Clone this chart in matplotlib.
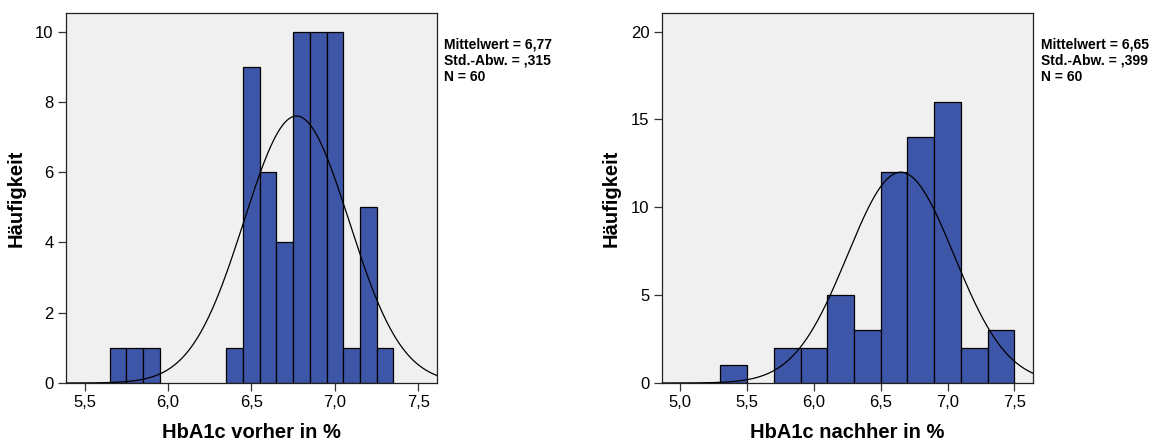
import numpy as np
import matplotlib
matplotlib.use("Agg")
import matplotlib.pyplot as plt
from matplotlib.ticker import FuncFormatter

plt.rcParams['font.family'] = ['Liberation Sans', 'DejaVu Sans']

# vorher: Klassenbreite 0,1
vorher_edges = [5.65, 5.75, 5.85, 5.95, 6.05, 6.15, 6.25, 6.35, 6.45, 6.55,
                6.65, 6.75, 6.85, 6.95, 7.05, 7.15, 7.25, 7.35]
vorher_counts = [1, 1, 1, 0, 0, 0, 0, 1, 9, 6, 4, 10, 10, 10, 1, 5, 1]
vorher_stats = (6.77, 0.315, 60)

# nachher: Klassenbreite 0,2
nachher_edges = [5.3, 5.5, 5.7, 5.9, 6.1, 6.3, 6.5, 6.7, 6.9, 7.1, 7.3, 7.5]
nachher_counts = [1, 0, 2, 2, 5, 3, 12, 14, 16, 2, 3]
nachher_stats = (6.65, 0.399, 60)

fig = plt.figure(figsize=(11.61, 4.44), dpi=100)

comma = FuncFormatter(lambda v, p: ("%.1f" % v).replace(".", ","))


def panel(rect, edges, counts, stats, xlim, ylim, xticks, yticks, xlabel, stxt, tx):
    ax = fig.add_axes(rect)
    ax.set_facecolor('#f0f0f0')
    edges = np.array(edges)
    counts = np.array(counts)
    lefts = edges[:-1]
    widths = np.diff(edges)
    m = counts > 0
    ax.bar(lefts[m], counts[m], width=widths[m], align='edge',
           color='#3e56a8', edgecolor='black', linewidth=0.9, zorder=2)
    mean, sd, n = stats
    bw = widths[0]
    xs = np.linspace(xlim[0], xlim[1], 400)
    ys = n * bw * np.exp(-0.5 * ((xs - mean) / sd) ** 2) / (sd * np.sqrt(2 * np.pi))
    ax.plot(xs, ys, color='black', linewidth=0.9, zorder=3)
    ax.set_xlim(*xlim)
    ax.set_ylim(*ylim)
    ax.set_xticks(xticks)
    ax.set_yticks(yticks)
    ax.xaxis.set_major_formatter(comma)
    ax.tick_params(direction='out', length=6, width=0.9, labelsize=12,
                   color='#333333', pad=3)
    for s in ax.spines.values():
        s.set_color('#222222')
        s.set_linewidth(0.9)
    ax.set_xlabel(xlabel, fontsize=14.5, fontweight='bold', labelpad=9)
    ax.set_ylabel('Häufigkeit', fontsize=14.5, fontweight='bold', labelpad=7)
    fig.text(tx, 0.915, stxt, fontsize=10, fontweight='bold', va='top',
             ha='left', linespacing=1.2)
    return ax


panel([0.0568, 0.1374, 0.3196, 0.8333], vorher_edges, vorher_counts, vorher_stats,
      (5.388, 7.612), (0, 10.53), [5.5, 6.0, 6.5, 7.0, 7.5], [0, 2, 4, 6, 8, 10],
      'HbA1c vorher in %', 'Mittelwert = 6,77\nStd.-Abw. = ,315\nN = 60', 0.3825)

panel([0.5700, 0.1374, 0.3200, 0.8333], nachher_edges, nachher_counts, nachher_stats,
      (4.861, 7.642), (0, 21.06), [5.0, 5.5, 6.0, 6.5, 7.0, 7.5], [0, 5, 10, 15, 20],
      'HbA1c nachher in %', 'Mittelwert = 6,65\nStd.-Abw. = ,399\nN = 60', 0.8965)

fig.savefig('out.png', dpi=100)
